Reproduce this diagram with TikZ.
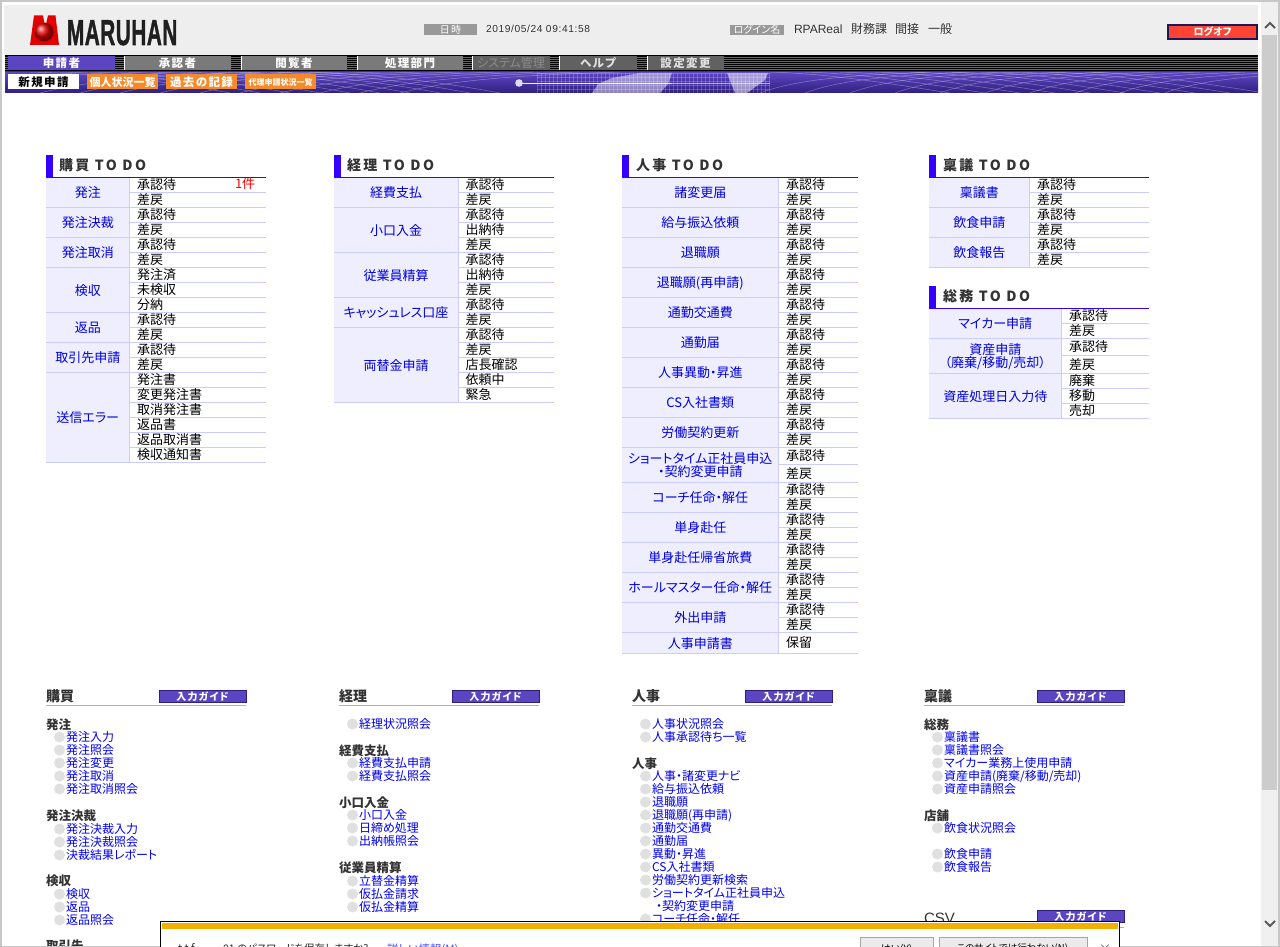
\documentclass[tikz,border=0pt]{standalone}
\usepackage{fontspec}
\usepackage{graphicx}
\setmainfont{Noto Sans CJK JP}[RawFeature={+palt}]
\newfontfamily\wide{Noto Sans CJK JP}[LetterSpace=12,RawFeature={+palt}]
\newfontfamily\widetitle{Noto Sans CJK JP}[LetterSpace=17,RawFeature={+palt}]
\newfontfamily\lat{Liberation Sans}
\newfontfamily\latw{Liberation Sans}[LetterSpace=6]
\newfontfamily\logofont{Liberation Sans Bold}[FakeBold=1.6]
\definecolor{grpfill}{HTML}{EEEEFF}
\definecolor{rule}{HTML}{CCCCFF}
\definecolor{todoblue}{HTML}{3300FF}
\definecolor{linkblue}{HTML}{0000F0}
\definecolor{tablink}{HTML}{0000DD}
\definecolor{purp}{HTML}{5C45C0}
\definecolor{purpdark}{HTML}{2E2080}
\definecolor{orng}{HTML}{F58A2A}
\definecolor{head}{HTML}{EEEEEE}
\definecolor{darktext}{HTML}{333333}
\definecolor{popbar}{HTML}{F2B000}
\definecolor{logored}{HTML}{FF4433}
\newcommand\px[1]{\fontsize{#1}{#1}\selectfont}
\tikzset{
  x=1pt,y=-1pt,
  every node/.style={inner sep=0pt,outer sep=0pt},
  tlabel/.style={align=center,text=tablink,font=\px{13}},
  tcell/.style={anchor=base west,text=black,font=\px{13}},
  todotitle/.style={anchor=base west,text=darktext,font=\widetitle\bfseries\px{14}},
  colhead/.style={anchor=base west,text=darktext,font=\bfseries\px{14}},
  subhead/.style={anchor=base west,text=darktext,font=\bfseries\px{12.5}},
  linkitem/.style={anchor=base west,text=linkblue,font=\px{12}},
  bullet/.style={circle,fill=black!12,minimum size=11pt},
  guide/.style={fill=purp,draw=purpdark,line width=.6pt,minimum width=87pt,minimum height=12pt,text=white,font=\wide\bfseries\px{10}},
  navtab/.style={minimum height=14pt,font=\wide\bfseries\px{11.5}},
  subtab/.style={minimum height=15pt,text=white,font=\wide\bfseries\px{11.5}},
  meshline/.style={draw=white,opacity=.35,line width=.5pt},
}
% name, x0, xdiv, x1, group list
\newcommand\todotable[5]{%
  \foreach \yt/\yb/\n/\lab/\cells [count=\g] in {#5} {
    \fill[grpfill] (#2,\yt) rectangle (#3,\yb);
    \node[tlabel] (#1g\g) at ({(#2+#3)/2},{(\yt+\yb)/2+1}) {\lab};
    \draw[rule,line width=.8pt] (#3,\yt) -- (#3,\yb);
    \draw[rule,line width=.8pt] (#2,\yt) -- (#4,\yt);
    \draw[rule,line width=.8pt] (#2,\yb) -- (#4,\yb);
    \foreach \c [count=\i] in \cells {
      \pgfmathsetmacro\rowc{\yt+(\i-.5)*(\yb-\yt)/\n+5}
      \pgfmathsetmacro\rowb{\yt+\i*(\yb-\yt)/\n}
      \node[tcell] (#1g\g c\i) at (#3+7.5,\rowc) {\c};
      \draw[rule,line width=.8pt] (#3,\rowb) -- (#4,\rowb);
    }
  }%
}
% name, x0, y-top-of-bar, y-rule, x1, text-x, text
\newcommand\todohead[7]{%
  \fill[todoblue] (#2,#3) rectangle (#2+7,#4);
  \draw[todoblue,line width=1pt] (#2,#4) -- (#5,#4);
  \node[todotitle] (#1) at (#6,#4-6.5) {#7};
}
% name, x, text
\newcommand\colhd[3]{%
  \node[colhead] (#1) at (#2,701) {#3};
  \draw[black!30,line width=1pt] (#2,705.5) -- (#2+200,705.5);
  \node[guide] (#1g) at (#2+156.5,696.5) {入力ガイド};
}
% prefix, bullet x, list y/text
\newcommand\links[3]{%
  \foreach \yy/\txt [count=\k] in {#3} {
    \node[bullet] (#1b\k) at (#2,\yy) {};
    \node[linkitem] (#1t\k) at (#2+6.5,\yy+4.8) {\txt};
  }%
}
\begin{document}
\begin{tikzpicture}
\useasboundingbox (0,0) rectangle (1280,947);
\clip (0,0) rectangle (1280,947);
\fill[white] (0,0) rectangle (1280,947);
% window frame
\fill[black!22] (0,0) rectangle (1280,2.5);
\fill[black!22] (0,0) rectangle (2,947);
% header
\fill[head] (4,5) rectangle (1258,56);
% logo
\fill[red!90!black] (34,15.5) -- (43,15.5) -- (44.5,24) -- (46,24) -- (48,15.5) -- (55.5,15.5) -- (59,45) -- (30,45) -- cycle;
\shade[ball color=red!90!black] (44,32) circle (9.5);
\node[anchor=base west,font=\logofont\px{36},text=black!88] (logo) at (67,45) {\scalebox{.575}[1]{M\kern1ptA\kern1ptR\kern1ptU\kern1ptH\kern1ptA\kern1ptN}};
% date and login
\node[fill=black!40,minimum width=53pt,minimum height=11pt,text=white,font=\wide\px{10}] (dtbox) at (450.5,29.5) {日時};
\node[anchor=west,font=\latw\px{10.2},text=darktext] (dt) at (486,29) {2019/05/24 09:41:58};
\node[fill=black!40,minimum width=54pt,minimum height=10.5pt,text=white,font=\px{10}] (lgbox) at (757,30) {ログイン名};
\node[anchor=west,font=\lat\px{12},text=darktext] (lg1) at (794,29) {RPAReal};
\node[anchor=west,font=\px{12},text=darktext] (lg2) at (851,29) {財務課};
\node[anchor=west,font=\px{12},text=darktext] (lg3) at (895,29) {間接};
\node[anchor=west,font=\px{12},text=darktext] (lg4) at (928,29) {一般};
\fill[purpdark!70!black] (1167,24) rectangle (1258,40);
\node[fill=logored,minimum width=87pt,minimum height=11.5pt,text=white,font=\bfseries\px{10}] (logoff) at (1212.5,32) {ログオフ};
% nav band
\fill[black] (5,55) rectangle (1258,73);
\foreach \yy in {57,59,...,69} \draw[black!60,line width=.8pt] (5,\yy) -- (1258,\yy);
\draw[black!75,line width=.8pt] (5,71.3) -- (1258,71.3);
\node[navtab,fill=purp,minimum width=107pt,text=white] (t1) at (61.5,63) {申請者};
\node[navtab,fill=black!52,minimum width=107pt,text=white] (t2) at (177.5,63) {承認者};
\node[navtab,fill=black!52,minimum width=106pt,text=white] (t3) at (294,63) {閲覧者};
\node[navtab,fill=black!52,minimum width=106pt,text=white] (t4) at (410,63) {処理部門};
\node[navtab,fill=black!62,minimum width=78pt,text=black!45,font=\px{12}] (t5) at (511,63) {システム管理};
\node[navtab,fill=black!62,minimum width=78pt,text=black!12] (t6) at (598,63) {ヘルプ};
\node[navtab,fill=black!62,minimum width=77pt,text=black!12] (t7) at (685.5,63) {設定変更};
\foreach \xx in {124,241,357,472,559,647} \draw[white,line width=.8pt] (\xx,56) -- (\xx,70);
% banner
\begin{scope}
\clip (5,73) rectangle (1258,93);
\shade[top color=purp,middle color=purp,bottom color=purpdark] (5,73) rectangle (1258,93);
\fill[white,opacity=.45] (592,93) -- (598,84) -- (612,78) -- (640,73) -- (672,73) -- (668,84) -- (660,93) -- cycle;
\fill[white,opacity=.5] (727,73) -- (768,73) -- (765,80) -- (747,93) -- (735,93) -- cycle;
\foreach \xx in {537,541,...,770} \draw[white,opacity=.2,line width=.5pt] (\xx,73) -- (\xx,93);
\foreach \yy in {73,77,...,93} \draw[white,opacity=.2,line width=.5pt] (537,\yy) -- (770,\yy);
\foreach \i in {0,...,9} {
  \draw[meshline] (40+\i*40,93) .. controls (90+\i*40,80) and (160+\i*40,75) .. (260+\i*40,72);
  \draw[meshline] (30+\i*30,72) .. controls (100+\i*30,74) and (160+\i*30,80) .. (230+\i*30,93);
  \draw[meshline] (760+\i*45,93) .. controls (800+\i*45,78) and (860+\i*45,75) .. (930+\i*45,72);
  \draw[meshline] (770+\i*35,72) .. controls (830+\i*35,74) and (880+\i*35,82) .. (950+\i*35,93);
}
\draw[yellow!30!white,line width=.9pt] (519,83) -- (672,83);
\draw[white,opacity=.6,line width=.9pt] (672,83) -- (770,83);
\fill[white!80!purp] (519,83) circle (3.8);
\end{scope}
\node[subtab,fill=white,minimum width=71pt,text=black] (s1) at (43.5,82) {新規申請};
\node[subtab,fill=orng,minimum width=71pt,font=\bfseries\px{11}] (s2) at (122.5,82) {個人状況一覧};
\node[subtab,fill=orng,minimum width=71pt] (s3) at (201.5,82) {過去の記録};
\node[subtab,fill=orng,minimum width=71pt,font=\bfseries\px{8}] (s4) at (280.5,82) {代理申請状況一覧};
% TODO tables
\todotable{a}{46}{129.5}{266}{
177/207/2/発注/{承認待,差戻},
207/237/2/発注決裁/{承認待,差戻},
237/267/2/発注取消/{承認待,差戻},
267/312/3/検収/{発注済,未検収,分納},
312/342/2/返品/{承認待,差戻},
342/372/2/取引先申請/{承認待,差戻},
372/462/6/送信エラー/{発注書,変更発注書,取消発注書,返品書,返品取消書,検収通知書}}
\todohead{h1}{46}{155}{177.5}{266}{59}{購買 TO DO}
\node[anchor=base west,text=red,font=\px{13}] (one) at (235,189) {1件};
\todotable{b}{334}{458}{554}{
177/207/2/経費支払/{承認待,差戻},
207/252/3/小口入金/{承認待,出納待,差戻},
252/297/3/従業員精算/{承認待,出納待,差戻},
297/327/2/キャッシュレス口座/{承認待,差戻},
327/402/5/両替金申請/{承認待,差戻,店長確認,依頼中,緊急}}
\todohead{h2}{334}{155}{177.5}{554}{347}{経理 TO DO}
\todotable{c}{622}{778.5}{858}{
177/207/2/諸変更届/{承認待,差戻},
207/237/2/給与振込依頼/{承認待,差戻},
237/267/2/退職願/{承認待,差戻},
267/297/2/退職願(再申請)/{承認待,差戻},
297/327/2/通勤交通費/{承認待,差戻},
327/357/2/通勤届/{承認待,差戻},
357/387/2/人事異動・昇進/{承認待,差戻},
387/417/2/CS入社書類/{承認待,差戻},
417/447/2/労働契約更新/{承認待,差戻},
447/482/2/{ショートタイム正社員申込\\・契約変更申請}/{承認待,差戻},
482/512/2/コーチ任命・解任/{承認待,差戻},
512/542/2/単身赴任/{承認待,差戻},
542/572/2/単身赴任帰省旅費/{承認待,差戻},
572/602/2/ホールマスター任命・解任/{承認待,差戻},
602/632/2/外出申請/{承認待,差戻},
632/653/1/人事申請書/{保留}}
\todohead{h3}{622}{155}{177.5}{858}{636}{人事 TO DO}
\todotable{d}{929}{1029.5}{1149}{
177/207/2/稟議書/{承認待,差戻},
207/237/2/飲食申請/{承認待,差戻},
237/267/2/飲食報告/{承認待,差戻}}
\todohead{h4}{929}{155}{177.5}{1149}{943}{稟議 TO DO}
\todotable{e}{929}{1061.5}{1149}{
308/338/2/マイカー申請/{承認待,差戻},
338/373/2/{資産申請\\（廃棄/移動/売却）}/{承認待,差戻},
373/418/3/資産処理日入力待/{廃棄,移動,売却}}
\todohead{h5}{929}{286}{308}{1149}{943}{総務 TO DO}
% lower lists: column 1
\colhd{k1}{46}{購買}
\node[subhead] (k1a) at (46,729) {発注};
\links{k1A}{59.5}{737/発注入力,750/発注照会,763/発注変更,776/発注取消,789/発注取消照会}
\node[subhead] (k1b) at (46,820.5) {発注決裁};
\links{k1B}{59.5}{829/発注決裁入力,842/発注決裁照会,855/決裁結果レポート}
\node[subhead] (k1c) at (46,885.5) {検収};
\links{k1C}{59.5}{894/検収,907/返品,920/返品照会}
\node[subhead] (k1d) at (46,950.5) {取引先};
% column 2
\colhd{k2}{339}{経理}
\links{k2A}{352.5}{724/経理状況照会}
\node[subhead] (k2b) at (339,755) {経費支払};
\links{k2B}{352.5}{763/経費支払申請,776/経費支払照会}
\node[subhead] (k2c) at (339,807) {小口入金};
\links{k2C}{352.5}{815/小口入金,828/日締め処理,841/出納帳照会}
\node[subhead] (k2d) at (339,872.5) {従業員精算};
\links{k2D}{352.5}{881/立替金精算,894/仮払金請求,907/仮払金精算}
% column 3
\colhd{k3}{632}{人事}
\links{k3A}{645.5}{724/人事状況照会,737/人事承認待ち一覧}
\node[subhead] (k3b) at (632,768) {人事};
\links{k3B}{645.5}{776/人事・諸変更ナビ,789/給与振込依頼,802/退職願,815/退職願(再申請),828/通勤交通費,841/通勤届,854/異動・昇進,867/CS入社書類,880/労働契約更新検索,893/ショートタイム正社員申込,919/コーチ任命・解任}
\node[linkitem] (k3x) at (656,910.8) {・契約変更申請};
% column 4
\colhd{k4}{924}{稟議}
\node[subhead] (k4a) at (924,729) {総務};
\links{k4A}{937.5}{737/稟議書,750/稟議書照会,763/マイカー業務上使用申請,776/{資産申請(廃棄/移動/売却)},789/資産申請照会}
\node[subhead] (k4b) at (924,820) {店舗};
\links{k4B}{937.5}{828/飲食状況照会,854/飲食申請,867/飲食報告}
\node[colhead,font=\lat\px{15}] (csv) at (924,923.5) {CSV};
\draw[black!30,line width=1pt] (924,927) -- (1124,927);
\node[guide] (csvg) at (1080.5,916.5) {入力ガイド};
% popup
\fill[white] (160,921) rectangle (1119,947);
\fill[popbar] (162,923) rectangle (1117.5,929);
\draw[black,line width=1pt] (160.5,947.5) -- (160.5,921.5) -- (1119,921.5) -- (1119,947.5);
\fill[black!8,draw=black!35,line width=.7pt] (860,937.5) rectangle (933,950);
\fill[black!8,draw=black!35,line width=.7pt] (939,937.5) rectangle (1087,950);
\node[anchor=base west,font=\px{11},text=black!85] (msg0) at (178,952.5) {t t f};
\node[anchor=base west,font=\px{10.5},text=black!85] (msg) at (223,952.5) {01 のパスワードを保存しますか?};
\node[anchor=base west,font=\px{11.4},text=linkblue!70!white] (more) at (387,953) {詳しい情報(M)};
\node[anchor=base,font=\px{10},text=black] (yes) at (896.5,952) {はい(Y)};
\node[anchor=base,font=\px{9.5},text=black] (no) at (1012.5,951.5) {このサイトでは行わない(N)};
\node[anchor=base,font=\px{12.5},text=black!60] (close) at (1105,953) {×};
% bottom border
\fill[black!22] (0,945.7) rectangle (160,947);
\fill[black!22] (1120,945.7) rectangle (1280,947);
% scrollbar
\fill[black!6] (1260.5,0) rectangle (1278,945.7);
\fill[black!22] (1278,0) rectangle (1280,947);
\fill[black!22] (1258,0) rectangle (1280,2.5);
\fill[black!20] (1262,35) rectangle (1277,790);
\draw[black!65,line width=2pt,line join=miter] (1265,28) -- (1270,23) -- (1275,28);
\draw[black!65,line width=2pt,line join=miter] (1265,921) -- (1270,926) -- (1275,921);
\end{tikzpicture}
\end{document}
